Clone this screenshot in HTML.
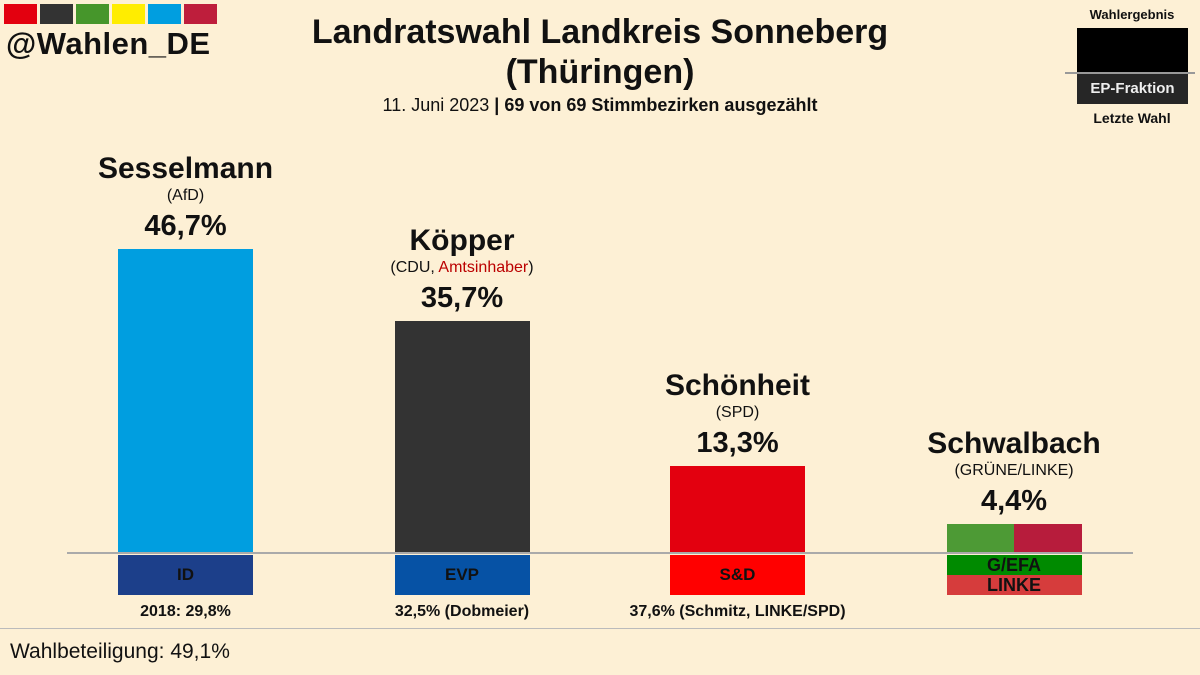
<!DOCTYPE html>
<html><head><meta charset="utf-8"><style>
body{margin:0;background:#fdf0d5;}
#c{position:relative;width:1200px;height:675px;overflow:hidden;background:#fdf0d5;font-family:"Liberation Sans",sans-serif;color:#111;}
.abs{position:absolute;}
.ctr{position:absolute;text-align:center;white-space:nowrap;transform:translateX(-50%);}
</style></head><body>
<div id="c">
<div class="abs" style="left:4px;top:4px;">
<span class="abs" style="left:0;top:0;width:33px;height:20px;background:#e3000f"></span>
<span class="abs" style="left:36px;top:0;width:33px;height:20px;background:#333"></span>
<span class="abs" style="left:72px;top:0;width:33px;height:20px;background:#46962b"></span>
<span class="abs" style="left:108px;top:0;width:33px;height:20px;background:#ffed00"></span>
<span class="abs" style="left:144px;top:0;width:33px;height:20px;background:#009ee0"></span>
<span class="abs" style="left:180px;top:0;width:33px;height:20px;background:#be1e3c"></span>
</div>
<div class="abs" style="left:6px;top:26px;font-size:31px;font-weight:bold;letter-spacing:0.5px;">@Wahlen_DE</div>
<div class="ctr" style="left:600px;top:12px;font-size:34px;font-weight:bold;line-height:40px;">Landratswahl Landkreis Sonneberg<br>(Thüringen)</div>
<div class="ctr" style="left:600px;top:95px;font-size:18px;">11. Juni 2023 <b>| 69 von 69 Stimmbezirken ausgezählt</b></div>
<div class="abs" style="left:0;top:0;">
<div class="ctr" style="left:1132px;top:7px;font-size:13px;font-weight:bold;">Wahlergebnis</div>
<div class="abs" style="left:1077px;top:28px;width:111px;height:45px;background:#000"></div>
<div class="abs" style="left:1065px;top:72px;width:130px;height:2px;background:#999"></div>
<div class="abs" style="left:1077px;top:74px;width:111px;height:30px;background:#262626;color:#eee;font-size:15px;font-weight:bold;text-align:center;line-height:30px;">EP-Fraktion</div>
<div class="ctr" style="left:1132px;top:110px;font-size:14px;font-weight:bold;">Letzte Wahl</div>
</div>
<div id="plot"></div>
<div class="abs" style="left:67px;top:552px;width:1066px;height:2px;background:#aaa"></div>
<div class="abs" style="left:0;top:628px;width:1200px;height:1px;background:#bbb"></div>
<div class="abs" style="left:10px;top:640px;font-size:21px;">Wahlbeteiligung: 49,1%</div>
</div>
<script>
const candidates=["Sesselmann","Köpper","Schönheit","Schwalbach"];
const parties=["(AfD)","(CDU, <span style='color:#b00'>Amtsinhaber</span>)","(SPD)","(GRÜNE/LINKE)"];
const values=[46.7,35.7,13.3,4.4];
const previous=["2018: 29,8%","32,5% (Dobmeier)","37,6% (Schmitz, LINKE/SPD)",""];
const groups=["ID","EVP","S&D","G/EFA|LINKE"];
const colors=[["#009ee0"],["#333333"],["#e3000f"],["#4d9a35","#b71c3c"]];
const groupColors=[["#1c3f8a"],["#0652a5"],["#ff0000"],["#008a00","#d63c3c"]];
const base=553, scale=6.51, centers=[185.5,462,737.5,1014], bw=135;
const y=v=>base-v*scale;
const plot=document.getElementById('plot');
values.forEach((v,i)=>{
  const cx=centers[i], top=y(v), left=cx-bw/2;
  const g=document.createElement('div');
  
  
  g.className='abs';g.style.cssText=`left:${left}px;top:${top}px;width:${bw}px;height:${base-top}px;display:flex;`;
  colors[i].forEach(c=>{const s=document.createElement('div');s.style.cssText=`flex:1;background:${c}`;g.appendChild(s);});
  plot.appendChild(g);
  const gs=groups[i].split('|');
  const strip=document.createElement('div');
  
  
  strip.className='abs';strip.style.cssText=`left:${left}px;top:555px;width:${bw}px;height:40px;`;
  gs.forEach((t,k)=>{const s=document.createElement('div');s.textContent=t;s.style.cssText=`height:${40/gs.length}px;line-height:${40/gs.length}px;background:${groupColors[i][k]};text-align:center;font-weight:bold;font-size:${gs.length>1?18:17}px;color:#111;`;strip.appendChild(s);});
  plot.appendChild(strip);
  const n=document.createElement('div');n.className='ctr';
  
  
  n.style.cssText=`left:${cx}px;top:${top-97}px;font-size:30px;font-weight:bold;`;n.textContent=candidates[i];plot.appendChild(n);
  const p=document.createElement('div');p.className='ctr';
  
  
  p.style.cssText=`left:${cx}px;top:${top-62}px;font-size:16px;`;p.innerHTML=parties[i];plot.appendChild(p);
  const l=document.createElement('div');l.className='ctr';
  
  
  l.style.cssText=`left:${cx}px;top:${top-39}px;font-size:29px;font-weight:bold;`;l.textContent=v.toFixed(1).replace('.',',')+'%';plot.appendChild(l);
  if(previous[i]){const q=document.createElement('div');q.className='ctr';
  
  
  q.style.cssText=`left:${cx}px;top:603px;font-size:16px;font-weight:bold;`;q.textContent=previous[i];plot.appendChild(q);}
});
</script>
</body></html>
